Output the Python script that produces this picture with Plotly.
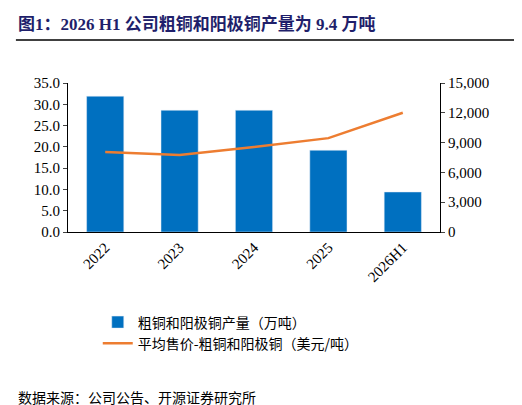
import plotly.graph_objects as go

years = ["2022", "2023", "2024", "2025", "2026H1"]
output = [31.9, 28.6, 28.6, 19.2, 9.4]
price = [8050, 7750, 8550, 9450, 12000]

fig = go.Figure()
fig.add_trace(go.Bar(x=years, y=output, name="粗铜和阳极铜产量（万吨）",
                     marker_color="#0070C0", width=0.5))
fig.add_trace(go.Scatter(x=years, y=price, name="平均售价-粗铜和阳极铜（美元/吨）",
                         yaxis="y2", mode="lines", line=dict(color="#ED7D31", width=2.5)))
font = "Liberation Serif, Noto Sans CJK SC"
fig.update_layout(
    width=522, height=405, margin=dict(l=60, r=90, t=75, b=181),
    paper_bgcolor="white", plot_bgcolor="white",
    font=dict(family=font, size=14, color="black"),
    xaxis=dict(tickangle=-45, showline=True, linecolor="black", ticks="", tickfont=dict(size=15)),
    yaxis=dict(range=[0, 35], dtick=5, tickformat=".1f", showline=True, linecolor="black",
               ticks="outside", ticklen=4, showgrid=False, tickfont=dict(size=15)),
    yaxis2=dict(range=[0, 15000], dtick=3000, tickformat=",", overlaying="y", side="right",
                showline=True, linecolor="black", ticks="outside", ticklen=4, showgrid=False,
                tickfont=dict(size=15)),
    legend=dict(x=0.08, y=-0.5, xanchor="left", yanchor="top", font=dict(size=14, family="Noto Sans CJK SC"),
                tracegroupgap=8),
    showlegend=True,
    bargap=0.5,
)
fig.add_annotation(text="<b>图1：2026 H1 公司粗铜和阳极铜产量为 9.4 万吨</b>", xref="paper", yref="paper",
                   x=-0.14, y=1.0, yshift=70, xanchor="left", yanchor="top", showarrow=False,
                   font=dict(size=17, color="#1F1F6B", family=font))
fig.add_annotation(text="数据来源：公司公告、开源证券研究所", xref="paper", yref="paper",
                   x=-0.14, y=0, yshift=-153, xanchor="left", yanchor="top", showarrow=False,
                   font=dict(size=14, family="Noto Sans CJK SC"))
fig.add_shape(type="line", xref="paper", yref="paper", x0=-0.14, x1=1.223, y0=1.289, y1=1.289,
              line=dict(color="black", width=1.5))
fig.write_html("out.html")
